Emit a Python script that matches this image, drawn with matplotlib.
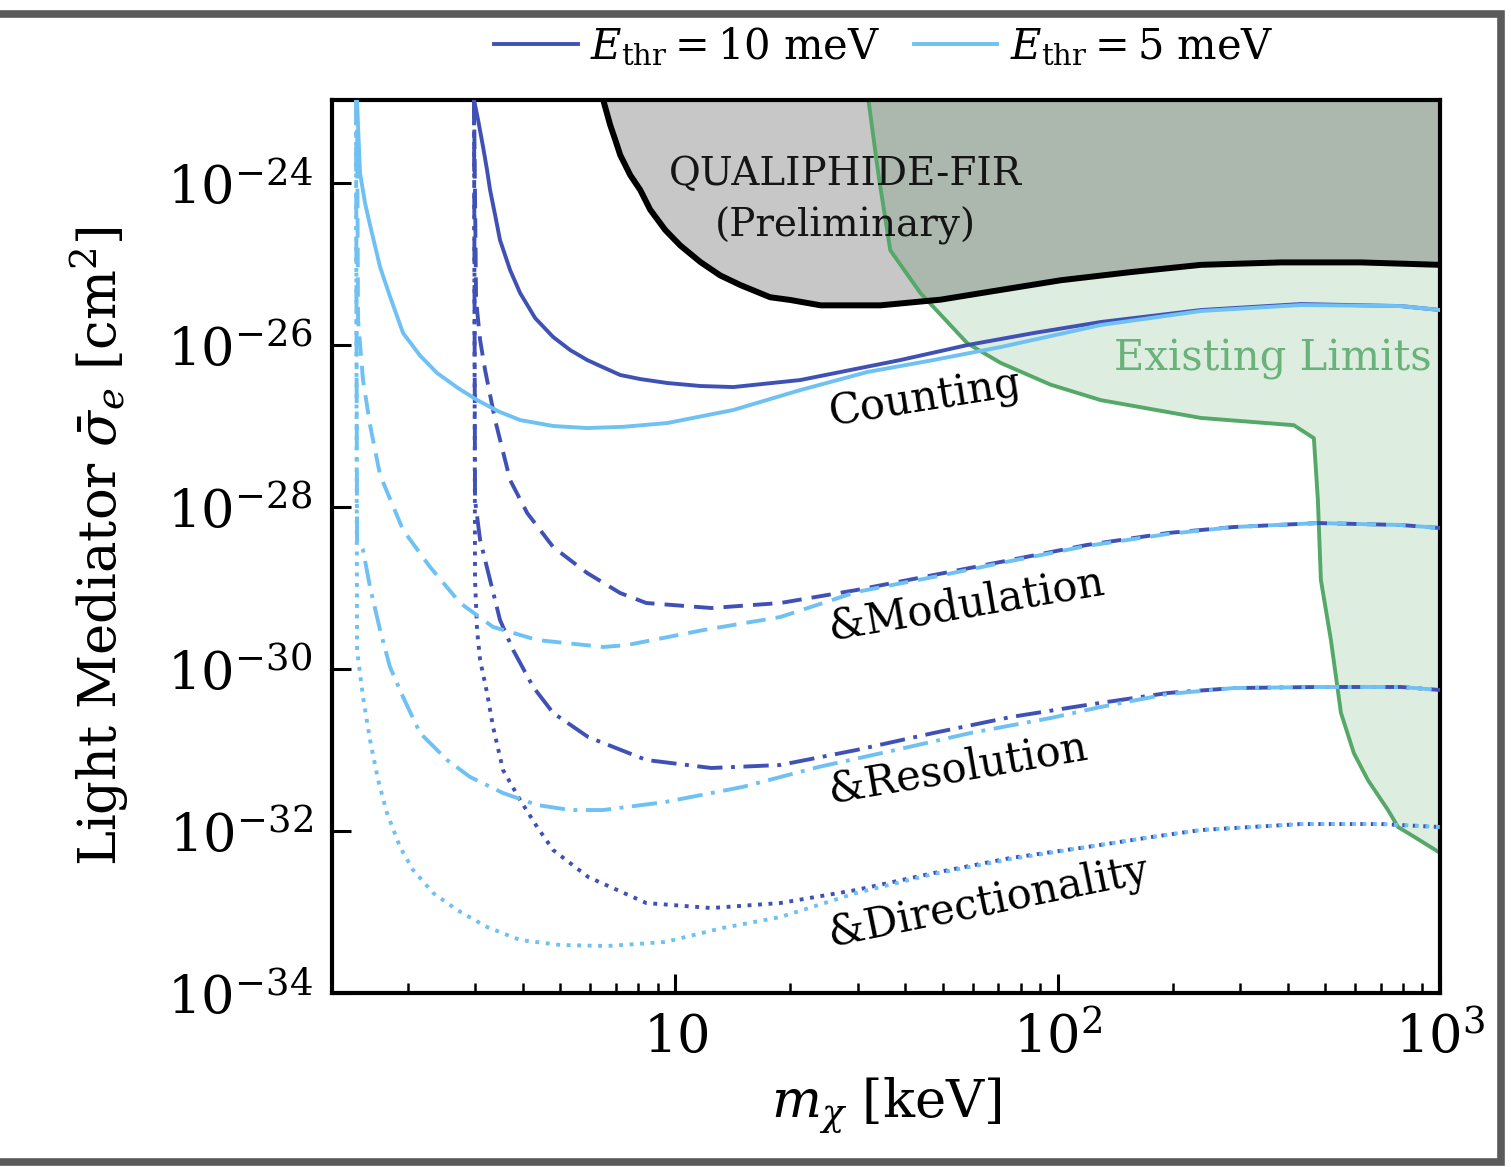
import numpy as np
import matplotlib
matplotlib.use('Agg')
import matplotlib.pyplot as plt
from matplotlib.patches import Rectangle
from matplotlib.ticker import FixedLocator, FixedFormatter, NullLocator

plt.rcParams['font.family'] = ['DejaVu Serif']
plt.rcParams['mathtext.fontset'] = 'dejavuserif'

# ---- data (mass in keV, log10 of cross section in cm^2) ----
DARK = '#3f51b5'
LIGHT = '#6ec1f2'
GREEN = '#55a868'

# QUALIPHIDE-FIR (preliminary)
qual_m = [6.48, 6.757, 6.97, 7.178, 7.62, 8.097, 8.6, 9.414, 10.3, 11.63, 13.1, 14.79, 17.7, 20.0,
          24.0, 34.4, 49.4, 70.9, 102, 155, 237, 384, 621, 1000]
qual_logsig = [-22.975, -23.284, -23.47, -23.654, -23.90, -24.086, -24.33, -24.58, -24.77, -24.975,
               -25.14, -25.259, -25.41, -25.444, -25.51, -25.51, -25.44, -25.32, -25.20, -25.10,
               -25.01, -24.98, -24.98, -25.01]

# existing limits
exist_m = [32.0, 34.0, 36.5, 43.8, 58.1, 70.9, 95.9, 129.6, 236.7, 414.7, 467.9, 479.3, 488.1,
           518.4, 550.7, 595.5, 647.7, 731, 776.5, 855, 1000]
exist_logsig = [-22.975, -23.90, -24.83, -25.36, -25.98, -26.22, -26.49, -26.68, -26.90, -26.99,
                -27.15, -27.91, -28.90, -29.64, -30.54, -31.04, -31.37, -31.74, -31.95, -32.07, -32.27]

# E_thr = 10 meV
cnt10_m = [2.976, 3.050, 3.143, 3.219, 3.278, 3.379, 3.480, 3.698, 3.928, 4.300, 4.793, 5.310,
           5.883, 6.363, 7.178, 8.097, 9.530, 11.63, 14.18, 21.24, 38.82, 58.12, 86.56, 129.6,
           236.7, 432.6, 790.7, 1000]
cnt10_logsig = [-22.975, -23.222, -23.556, -23.840, -24.086, -24.395, -24.704, -25.074, -25.358,
                -25.667, -25.901, -26.062, -26.185, -26.259, -26.370, -26.420, -26.469, -26.506,
                -26.519, -26.432, -26.185, -26.000, -25.852, -25.716, -25.568, -25.494, -25.519,
                -25.568]
mod10_m = [2.976, 3.013, 3.087, 3.181, 3.379, 3.698, 4.099, 4.793, 5.883, 7.178, 8.397, 12.42,
           18.83, 29.77, 47.36, 75.34, 119.1, 194.1, 288.9, 479.3, 790.7, 1000]
mod10_logsig = [-22.975, -25.444, -25.938, -26.309, -26.926, -27.667, -28.074, -28.494, -28.815,
                -29.062, -29.185, -29.247, -29.185, -29.025, -28.840, -28.654, -28.469, -28.321,
                -28.247, -28.198, -28.222, -28.259]
res10_m = [2.976, 2.994, 3.087, 3.278, 3.480, 3.766, 4.250, 4.793, 5.919, 8.397, 12.42, 18.83,
           29.77, 47.36, 75.34, 119.1, 194.1, 288.9, 479.3, 790.7, 1000]
res10_logsig = [-22.975, -27.914, -28.407, -28.901, -29.395, -29.765, -30.222, -30.543, -30.840,
                -31.123, -31.222, -31.185, -31.000, -30.790, -30.593, -30.444, -30.296, -30.235,
                -30.222, -30.222, -30.259]
dir10_m = [2.976, 2.994, 3.031, 3.087, 3.219, 3.338, 3.544, 3.928, 4.353, 4.793, 5.919, 8.397,
           12.42, 18.83, 29.77, 47.36, 75.34, 119.1, 176.2, 236.7, 432.6, 700.9, 1000]
dir10_logsig = [-22.975, -28.901, -29.519, -29.889, -30.296, -30.716, -31.247, -31.617, -31.951,
                -32.235, -32.568, -32.889, -32.951, -32.889, -32.728, -32.519, -32.333, -32.198,
                -32.074, -31.988, -31.914, -31.914, -31.951]

# E_thr = 5 meV
cnt5_m = [1.471, 1.480, 1.498, 1.544, 1.591, 1.690, 1.800, 1.941, 2.150, 2.383, 2.700, 3.031,
          3.450, 3.928, 4.800, 5.883, 7.300, 9.530, 14.18, 21.24, 31.81, 47.36, 70.94, 129.6,
          236.7, 432.6, 790.7, 1000]
cnt5_logsig = [-22.975, -23.300, -23.877, -24.250, -24.519, -25.037, -25.420, -25.852, -26.130,
               -26.346, -26.530, -26.679, -26.820, -26.926, -27.000, -27.025, -27.010, -26.963,
               -26.802, -26.556, -26.333, -26.185, -26.025, -25.753, -25.580, -25.506, -25.519,
               -25.568]
mod5_m = [1.471, 1.480, 1.525, 1.591, 1.690, 1.941, 2.284, 2.737, 3.338, 4.353, 6.478, 7.489,
          11.84, 18.83, 29.77, 47.36, 75.34, 119.1, 194.1, 288.9, 479.3, 790.7, 1000]
mod5_logsig = [-22.975, -25.691, -26.432, -26.988, -27.605, -28.284, -28.741, -29.185, -29.481,
               -29.642, -29.728, -29.704, -29.519, -29.358, -29.049, -28.864, -28.667, -28.481,
               -28.333, -28.247, -28.198, -28.222, -28.259]
res5_m = [1.462, 1.471, 1.525, 1.591, 1.690, 1.794, 1.941, 2.150, 2.530, 2.906, 3.544, 4.353,
          5.310, 6.478, 9.414, 14.97, 23.68, 37.67, 59.18, 95.87, 129.6, 194.1, 288.9, 479.3,
          790.7, 1000]
res5_logsig = [-22.975, -28.407, -28.531, -28.988, -29.519, -29.975, -30.346, -30.790, -31.123,
               -31.333, -31.531, -31.679, -31.741, -31.741, -31.642, -31.457, -31.210, -31.000,
               -30.790, -30.605, -30.469, -30.309, -30.235, -30.222, -30.222, -30.259]
dir5_m = [1.462, 1.471, 1.525, 1.591, 1.670, 1.762, 1.906, 2.061, 2.326, 2.687, 3.219, 3.928,
          5.000, 6.637, 9.414, 13.27, 18.83, 29.77, 47.36, 75.34, 119.1, 176.2, 236.7, 432.6,
          700.9, 1000]
dir5_logsig = [-22.975, -29.765, -30.346, -30.877, -31.370, -31.778, -32.198, -32.481, -32.765,
               -32.975, -33.185, -33.346, -33.407, -33.420, -33.370, -33.198, -33.062, -32.765,
               -32.531, -32.346, -32.198, -32.074, -31.988, -31.914, -31.914, -31.951]

curve_labels = ['Counting', '&Modulation', '&Resolution', '&Directionality']
label_m = [25.5, 25.5, 25.5, 25.5]
label_logsig = [-26.99, -29.64, -31.65, -33.41]
label_rot = [9, 9.5, 9.7, 11.5]

# ---- figure ----
fig = plt.figure(figsize=(15.11, 11.67), dpi=100)
ax = fig.add_axes([0.2197, 0.1491, 0.7333, 0.7652])


def sig(v):
    return np.power(10.0, np.array(v))


ax.fill_between(exist_m, sig(exist_logsig), 1e-22, color=GREEN, alpha=0.2, lw=0, zorder=1)
ax.fill_between(qual_m, sig(qual_logsig), 1e-22, color='black', alpha=0.22, lw=0, zorder=1.5)
ax.plot(exist_m, sig(exist_logsig), color=GREEN, lw=2.8, zorder=2)

styles = ['-', (0, (5, 2.6)), (0, (6.5, 2.2, 1, 2.2)), (0, (1, 1.7))]
for c, sets in [(DARK, [(cnt10_m, cnt10_logsig), (mod10_m, mod10_logsig),
                        (res10_m, res10_logsig), (dir10_m, dir10_logsig)]),
                (LIGHT, [(cnt5_m, cnt5_logsig), (mod5_m, mod5_logsig),
                         (res5_m, res5_logsig), (dir5_m, dir5_logsig)])]:
    for ls, (mm, ll) in zip(styles, sets):
        ax.plot(mm, sig(ll), color=c, lw=2.8, ls=ls, zorder=3)

ax.plot(qual_m, sig(qual_logsig), color='black', lw=4.3, zorder=4)

for t, xm, yl, r in zip(curve_labels, label_m, label_logsig, label_rot):
    ax.text(xm, 10.0 ** yl, t, fontsize=30, rotation=r, rotation_mode='anchor',
            ha='left', va='baseline', zorder=5)

ax.text(27.9, 10.0 ** -24.22, 'QUALIPHIDE-FIR\n(Preliminary)', fontsize=28, ha='center',
        va='center', linespacing=1.45, color='#151515', zorder=5)
ax.text(950, 10.0 ** -26.31, 'Existing Limits', fontsize=30, ha='right', va='baseline',
        color=GREEN, alpha=0.85, zorder=5)

ax.set_xscale('log')
ax.set_yscale('log')
ax.set_xlim(1.265, 1000)
ax.set_ylim(1e-34, 10.0 ** -22.975)

ax.xaxis.set_major_locator(FixedLocator([10, 100, 1000]))
ax.xaxis.set_major_formatter(FixedFormatter([r'$10$', r'$10^2$', r'$10^3$']))
ax.set_yticks([1e-34, 1e-32, 1e-30, 1e-28, 1e-26, 1e-24])
ax.yaxis.set_minor_locator(NullLocator())

ax.tick_params(which='both', direction='in', top=False, right=False, labelsize=38, pad=14)
ax.tick_params(which='major', length=14, width=2.2)
ax.tick_params(which='minor', length=7, width=1.8)
for s in ax.spines.values():
    s.set_linewidth(3)

ax.set_xlabel(r'$m_\chi$ [keV]', fontsize=38, labelpad=8)
ax.set_ylabel(r'Light Mediator $\bar{\sigma}_e$ [cm$^2$]', fontsize=38, labelpad=26)

h1, = ax.plot([], [], color=DARK, lw=2.8)
h2, = ax.plot([], [], color=LIGHT, lw=2.8)
fig.legend([h1, h2], [r'$E_{\rm thr} = 10$ meV', r'$E_{\rm thr} = 5$ meV'],
           loc='center', bbox_to_anchor=(0.585, 0.96), ncol=2, frameon=False, fontsize=30,
           handlelength=2.0, handletextpad=0.3, columnspacing=0.8)

# outer frame of the screenshot
fig.add_artist(Rectangle((-0.02, 5 / 1167), 1501 / 1511 + 0.02, 1 - 19 / 1167,
                         transform=fig.transFigure, fill=False, edgecolor='#5a5a5a', lw=5.5))

fig.savefig('out.png', dpi=100)
